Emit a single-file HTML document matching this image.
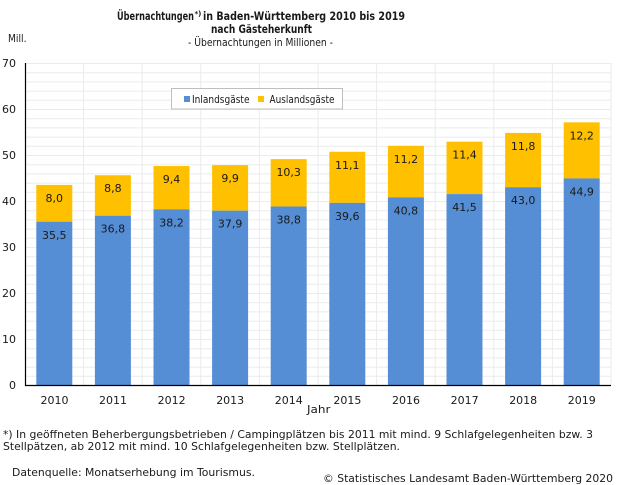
<!DOCTYPE html>
<html><head><meta charset="utf-8"><style>
html,body{margin:0;padding:0;background:#fff;}
svg{display:block;}
text{font-family:"DejaVu Sans","Liberation Sans",sans-serif;fill:#1a1a1a;}
</style></head><body>
<svg width="617" height="485" viewBox="0 0 617 485" xmlns="http://www.w3.org/2000/svg">
<rect width="617" height="485" fill="#fff"/>
<!-- titles -->
<text x="117" y="20" font-size="11.5" font-weight="bold" textLength="77" lengthAdjust="spacingAndGlyphs">Übernachtungen</text>
<text x="194.5" y="16" font-size="7" font-weight="bold">*)</text>
<text x="203" y="20" font-size="11.5" font-weight="bold" textLength="202" lengthAdjust="spacingAndGlyphs">in Baden-Württemberg 2010 bis 2019</text>
<text x="211" y="33" font-size="11.5" font-weight="bold" textLength="101" lengthAdjust="spacingAndGlyphs">nach Gästeherkunft</text>
<text x="188" y="46" font-size="11" textLength="145" lengthAdjust="spacingAndGlyphs">- Übernachtungen in Millionen -</text>
<text x="8" y="42" font-size="11" textLength="18.5" lengthAdjust="spacingAndGlyphs">Mill.</text>
<!-- gridlines -->
<g stroke="#ebebeb" stroke-width="1" fill="none">
<path d="M25 63.5H611M25 72.7H611M25 81.9H611M25 91.1H611M25 100.3H611M25 109.5H611M25 118.7H611M25 127.9H611M25 137.1H611M25 146.3H611M25 155.5H611M25 164.7H611M25 173.9H611M25 183.1H611M25 192.3H611M25 201.5H611M25 210.7H611M25 219.9H611M25 229.1H611M25 238.3H611M25 247.5H611M25 256.7H611M25 265.9H611M25 275.1H611M25 284.3H611M25 293.5H611M25 302.7H611M25 311.9H611M25 321.1H611M25 330.3H611M25 339.5H611M25 348.7H611M25 357.9H611M25 367.1H611M25 376.3H611"/>
<path d="M83.6 63V385M142.2 63V385M200.8 63V385M259.4 63V385M318 63V385M376.6 63V385M435.2 63V385M493.8 63V385M552.4 63V385M611 63V385"/>
</g>
<!-- bars -->
<g>
<rect x="36.3" y="184.9" width="36" height="36.8" fill="#FFC000"/><rect x="36.3" y="221.7" width="36" height="163.3" fill="#558ED5"/>
<rect x="94.9" y="175.24" width="36" height="40.48" fill="#FFC000"/><rect x="94.9" y="215.72" width="36" height="169.28" fill="#558ED5"/>
<rect x="153.5" y="166.04" width="36" height="43.24" fill="#FFC000"/><rect x="153.5" y="209.28" width="36" height="175.72" fill="#558ED5"/>
<rect x="212.1" y="165.12" width="36" height="45.54" fill="#FFC000"/><rect x="212.1" y="210.66" width="36" height="174.34" fill="#558ED5"/>
<rect x="270.7" y="159.14" width="36" height="47.38" fill="#FFC000"/><rect x="270.7" y="206.52" width="36" height="178.48" fill="#558ED5"/>
<rect x="329.3" y="151.78" width="36" height="51.06" fill="#FFC000"/><rect x="329.3" y="202.84" width="36" height="182.16" fill="#558ED5"/>
<rect x="387.9" y="145.8" width="36" height="51.52" fill="#FFC000"/><rect x="387.9" y="197.32" width="36" height="187.68" fill="#558ED5"/>
<rect x="446.5" y="141.66" width="36" height="52.44" fill="#FFC000"/><rect x="446.5" y="194.1" width="36" height="190.9" fill="#558ED5"/>
<rect x="505.1" y="132.92" width="36" height="54.28" fill="#FFC000"/><rect x="505.1" y="187.2" width="36" height="197.8" fill="#558ED5"/>
<rect x="563.7" y="122.34" width="36" height="56.12" fill="#FFC000"/><rect x="563.7" y="178.46" width="36" height="206.54" fill="#558ED5"/>
</g>
<!-- bar labels -->
<g font-size="11" text-anchor="middle">
<text x="54.3" y="202">8,0</text><text x="54.3" y="239">35,5</text>
<text x="112.9" y="192.2">8,8</text><text x="112.9" y="232.7">36,8</text>
<text x="171.5" y="183">9,4</text><text x="171.5" y="226.3">38,2</text>
<text x="230.1" y="182.1">9,9</text><text x="230.1" y="227.7">37,9</text>
<text x="288.7" y="176.1">10,3</text><text x="288.7" y="223.5">38,8</text>
<text x="347.3" y="168.8">11,1</text><text x="347.3" y="219.8">39,6</text>
<text x="405.9" y="162.8">11,2</text><text x="405.9" y="214.3">40,8</text>
<text x="464.5" y="158.7">11,4</text><text x="464.5" y="211.1">41,5</text>
<text x="523.1" y="149.9">11,8</text><text x="523.1" y="204.2">43,0</text>
<text x="581.7" y="139.3">12,2</text><text x="581.7" y="195.5">44,9</text>
</g>
<!-- axes -->
<path d="M25.5 63V385.5H611" stroke="#000" stroke-width="1.2" fill="none"/>
<g font-size="11" text-anchor="end">
<text x="16" y="67">70</text><text x="16" y="113">60</text><text x="16" y="159">50</text><text x="16" y="205">40</text>
<text x="16" y="251">30</text><text x="16" y="297">20</text><text x="16" y="343">10</text><text x="16" y="389">0</text>
</g>
<g font-size="11" text-anchor="middle">
<text x="54.5" y="404">2010</text><text x="113" y="404">2011</text><text x="171.6" y="404">2012</text><text x="230.2" y="404">2013</text><text x="288.8" y="404">2014</text>
<text x="347.4" y="404">2015</text><text x="406" y="404">2016</text><text x="464.6" y="404">2017</text><text x="523.2" y="404">2018</text><text x="581.8" y="404">2019</text>
</g>
<text x="307" y="413" font-size="11" textLength="23.5" lengthAdjust="spacingAndGlyphs">Jahr</text>
<!-- legend -->
<rect x="171.5" y="88.5" width="171" height="20.5" fill="#fff" stroke="#bfbfbf" stroke-width="1"/>
<rect x="184" y="96" width="6" height="6" fill="#558ED5"/>
<text x="192" y="103" font-size="11" textLength="57.5" lengthAdjust="spacingAndGlyphs">Inlandsgäste</text>
<rect x="258" y="96" width="6" height="6" fill="#FFC000"/>
<text x="269.5" y="103" font-size="11" textLength="65" lengthAdjust="spacingAndGlyphs">Auslandsgäste</text>
<!-- footnotes -->
<text x="3" y="438" font-size="11" textLength="590" lengthAdjust="spacingAndGlyphs">*) In geöffneten Beherbergungsbetrieben / Campingplätzen bis 2011 mit mind. 9 Schlafgelegenheiten bzw. 3</text>
<text x="3" y="450" font-size="11" textLength="397" lengthAdjust="spacingAndGlyphs">Stellpätzen, ab 2012 mit mind. 10 Schlafgelegenheiten bzw. Stellplätzen.</text>
<text x="12" y="476" font-size="11" textLength="243" lengthAdjust="spacingAndGlyphs">Datenquelle: Monatserhebung im Tourismus.</text>
<text x="323" y="482" font-size="11" textLength="290" lengthAdjust="spacingAndGlyphs">© Statistisches Landesamt Baden-Württemberg 2020</text>
</svg>
</body></html>
